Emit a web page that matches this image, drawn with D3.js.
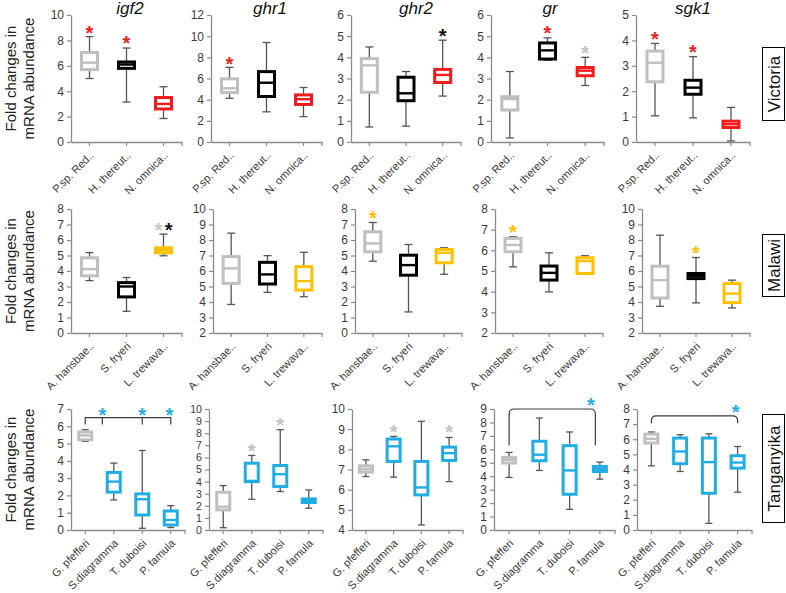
<!DOCTYPE html>
<html><head><meta charset="utf-8">
<script src="https://cdn.jsdelivr.net/npm/d3@7"></script>
<style>body{margin:0;background:#fff}svg{display:block;font-family:"Liberation Sans",Arial,sans-serif}</style>
</head><body><svg id="c" width="786" height="593"></svg>
<script>
// ---------- DATA ----------
const genes = ["igf2","ghr1","ghr2","gr","sgk1"];
const lakes = ["Victoria","Malawi","Tanganyika"];
const yTitleLines = ["Fold changes in","mRNA abundance"];

const victoriaSpecies = ["P.sp. Red..","H. thereut..","N. omnica.."];
const malawiSpecies = ["A. hansbae..","S. fryeri","L. trewava.."];
const tanganyikaSpecies = ["G. pfefferi","S.diagramma","T. duboisi","P. famula"];

const victoriaColors = ["grey","black","red"];
const malawiColors = ["grey","black","yellow"];
const tanganyikaColors = ["grey","cyan","cyan","cyan"];

const victoriaYMin = [0,0,0,0,0];
const victoriaYMax = [10,12,6,6,5];
const victoriaYStep = [2,2,1,1,1];
const malawiYMin = [0,2,0,2,2];
const malawiYMax = [8,10,8,8,10];
const malawiYStep = [1,1,1,1,1];
const tanganyikaYMin = [0,0,4,0,0];
const tanganyikaYMax = [7,10,10,9,8];
const tanganyikaYStep = [1,1,1,1,1];

// [whisker min, q1, median, q3, whisker max] per gene, per species
const victoriaBoxes = [
  [[5.0,5.7,6.25,7.05,8.3],[3.15,5.8,6.1,6.3,7.4],[1.85,2.6,3.0,3.5,4.35]],
  [[4.13,4.67,5.08,5.97,7.05],[2.85,4.3,5.6,6.65,9.4],[2.4,3.55,4.05,4.45,5.15]],
  [[0.71,2.35,3.62,3.94,4.49],[0.75,1.95,2.3,3.06,3.33],[2.17,2.81,3.17,3.43,4.81]],
  [[0.19,1.51,2.03,2.14,3.33],[3.86,3.92,4.33,4.68,4.92],[2.67,3.13,3.37,3.52,4.0]],
  [[1.03,2.37,3.12,3.58,3.88],[0.95,1.88,2.14,2.43,3.36],[0.04,0.57,0.7,0.82,1.36]]
];
const malawiBoxes = [
  [[3.38,3.69,4.12,4.85,5.19],[1.4,2.33,3.0,3.25,3.58],[4.98,5.17,5.34,5.5,6.38]],
  [[3.84,5.2,6.17,6.93,8.44],[4.62,5.16,5.78,6.56,6.99],[4.34,4.77,5.35,6.28,7.21]],
  [[4.63,5.24,5.78,6.53,7.13],[1.36,3.73,4.38,5.02,5.71],[3.79,4.53,5.17,5.39,5.5]],
  [[5.2,5.93,6.26,6.58,6.66],[3.99,4.56,4.91,5.24,5.88],[4.84,4.88,5.48,5.64,5.74]],
  [[3.72,4.26,5.41,6.31,8.31],[3.94,5.51,5.69,5.84,6.87],[3.62,3.96,4.54,5.19,5.41]]
];
const tanganyikaBoxes = [
  [[5.13,5.22,5.47,5.67,5.8],[1.74,2.19,2.8,3.33,3.87],[0.1,0.87,1.78,2.09,4.6],[0.14,0.29,0.58,1.1,1.41]],
  [[0.19,1.66,1.93,3.12,3.67],[2.54,4.0,4.06,5.52,6.16],[3.18,3.59,4.61,5.33,8.29],[1.8,2.27,2.4,2.57,3.31]],
  [[6.65,6.87,7.02,7.18,7.48],[6.62,7.4,8.15,8.51,8.64],[4.25,5.74,6.11,7.4,9.39],[6.4,7.45,7.81,8.11,8.59]],
  [[3.91,4.98,5.22,5.4,5.77],[4.43,5.15,5.6,6.6,8.33],[1.54,2.66,4.43,6.27,7.29],[3.78,4.35,4.53,4.73,5.05]],
  [[4.24,5.75,6.03,6.34,6.48],[3.87,4.38,5.19,6.08,6.3],[0.44,2.43,4.49,6.08,6.36],[2.5,4.09,4.46,4.91,5.52]]
];

// significance stars: [gene index, category position, value, colour]
const victoriaStars = [
  [0,0,8.95,"red"],[0,1,8.16,"red"],[1,0,7.84,"red"],[2,2,5.2,"black"],
  [3,1,5.35,"red"],[3,2,4.41,"grey"],[4,0,4.24,"red"],[4,1,3.72,"red"]
];
const malawiStars = [
  [0,1.86,6.96,"grey"],[0,2.14,6.96,"black"],[2,0,7.72,"yellow"],[3,0,7.1,"yellow"],[4,1,7.45,"yellow"]
];
const tanganyikaStars = [
  [0,0.6,6.94,"cyan"],[0,2.0,6.94,"cyan"],[0,2.95,6.94,"cyan"],
  [1,1,6.9,"grey"],[1,2,9.06,"grey"],[2,1,9.09,"grey"],[2,3,9.06,"grey"],
  [3,2.7,9.6,"cyan"],[4,2.93,8.07,"cyan"]
];
// brackets: gene index, from pos, to pos, top value, end value, tick positions, rounded
const tanganyikaBrackets = [
  [0,0,3,6.5,6.1,[0.6,2.0],false],
  [3,0,2.85,9.0,6.3,[],true],
  [4,0,3,7.55,7.05,[],true]
];

// ---------- STYLE / LAYOUT ----------
const palette = {grey:"#bfbfbf", black:"#000000", red:"#ee1c1c", yellow:"#ffc000", cyan:"#1fade4"};
const starPalette = {grey:"#c3c3c3", black:"#111111", red:"#ee1c1c", yellow:"#ffc000", cyan:"#1fade4"};
const rowLayout = [{top:15,bottom:142},{top:209,bottom:333},{top:409,bottom:530}];
const xRanges = [
  [[71,182],[211,322],[351,461],[491,604],[636,750]],
  [[71,182],[213,322],[355,462],[495,603],[642,750]],
  [[71,185],[209,323],[352,463],[494,615],[637,752]]
];
const titleX = [130,270,416,550,693];
const lakeBoxes = [{y0:47,y1:120},{y0:234,y1:296},{y0:414,y1:522}];

const rows = [
  {species:victoriaSpecies, colors:victoriaColors, mins:victoriaYMin, maxs:victoriaYMax, steps:victoriaYStep, boxes:victoriaBoxes, stars:victoriaStars, brackets:[]},
  {species:malawiSpecies, colors:malawiColors, mins:malawiYMin, maxs:malawiYMax, steps:malawiYStep, boxes:malawiBoxes, stars:malawiStars, brackets:[]},
  {species:tanganyikaSpecies, colors:tanganyikaColors, mins:tanganyikaYMin, maxs:tanganyikaYMax, steps:tanganyikaYStep, boxes:tanganyikaBoxes, stars:tanganyikaStars, brackets:tanganyikaBrackets}
];

const svg = d3.select("#c");
const axisColor = "#8a8a8a", textColor = "#3a3a3a", whiskerColor = "#555555";

rows.forEach((row, r) => {
  const L = rowLayout[r];
  const yc = (L.top + L.bottom) / 2;
  [16, 34].forEach((bx, k) => {
    svg.append("text").attr("transform", `translate(${bx},${yc}) rotate(-90)`)
      .attr("text-anchor","middle").attr("font-size",15).attr("fill","#222")
      .text(yTitleLines[k]);
  });
  const lb = lakeBoxes[r];
  svg.append("rect").attr("x",762.5).attr("y",lb.y0+0.5).attr("width",22).attr("height",lb.y1-lb.y0)
    .attr("fill","#fff").attr("stroke","#000").attr("stroke-width",1);
  svg.append("text").attr("transform",`translate(780,${(lb.y0+lb.y1)/2+0.5}) rotate(-90)`)
    .attr("text-anchor","middle").attr("font-size",17).attr("fill","#111").text(lakes[r]);

  genes.forEach((gene, g) => {
    const [x0, x1] = xRanges[r][g];
    const x = d3.scaleBand().domain(row.species).range([x0, x1]).padding(0);
    const y = d3.scaleLinear().domain([row.mins[g], row.maxs[g]]).range([L.bottom, L.top]);
    const pos = p => x(row.species[0]) + (p + 0.5) * x.step();
    const ticks = d3.range(row.mins[g], row.maxs[g] + row.steps[g] / 2, row.steps[g]);
    const tickGap = Math.abs(y(ticks[0]) - y(ticks[1]));
    const tickFont = tickGap < 13.5 ? Math.max(10.5, tickGap - 1.5) : 12;
    const bw = r === 2 ? 13 : 16;
    const capW = r === 2 ? 7 : 8;
    const pg = svg.append("g");

    if (r === 0) {
      pg.append("text").attr("x", titleX[g]).attr("y", 14).attr("text-anchor","middle")
        .attr("font-size",17).attr("font-style","italic").attr("fill","#111").text(gene);
    }

    const ya = pg.append("g").attr("transform",`translate(${x0},0)`)
      .call(d3.axisLeft(y).tickValues(ticks).tickSize(4).tickSizeOuter(0).tickPadding(3).tickFormat(d3.format("d")));
    ya.select(".domain").attr("stroke",axisColor).attr("stroke-width",1.3);
    ya.selectAll(".tick line").attr("stroke",axisColor).attr("stroke-width",1.2);
    ya.selectAll(".tick text").attr("font-size",tickFont).attr("fill",textColor).attr("font-family","Liberation Sans, Arial, sans-serif");

    const xa = pg.append("g").attr("transform",`translate(0,${L.bottom})`)
      .call(d3.axisBottom(x).tickSize(4).tickSizeOuter(0));
    xa.select(".domain").attr("stroke",axisColor).attr("stroke-width",1.3);
    xa.selectAll(".tick line").attr("stroke",axisColor).attr("stroke-width",1.2);
    xa.selectAll(".tick text").attr("font-size",11).attr("fill",textColor)
      .attr("font-family","Liberation Sans, Arial, sans-serif")
      .attr("text-anchor","end").attr("x",null).attr("y",null).attr("dy",null)
      .attr("transform","translate(5,14) rotate(-45)");
    xa.append("line").attr("x1",x1).attr("x2",x1).attr("y1",0).attr("y2",4)
      .attr("stroke",axisColor).attr("stroke-width",1.2);

    row.boxes[g].forEach((b, i) => {
      const cx = x(row.species[i]) + x.bandwidth() / 2;
      const col = palette[row.colors[i]];
      const [mn, q1, md, q3, mx] = b;
      const bg = pg.append("g");
      bg.append("line").attr("x1",cx).attr("x2",cx).attr("y1",y(mn)).attr("y2",y(q1)).attr("stroke",whiskerColor).attr("stroke-width",1.3);
      bg.append("line").attr("x1",cx).attr("x2",cx).attr("y1",y(q3)).attr("y2",y(mx)).attr("stroke",whiskerColor).attr("stroke-width",1.3);
      [mn, mx].forEach(v => bg.append("line").attr("x1",cx-capW/2).attr("x2",cx+capW/2).attr("y1",y(v)).attr("y2",y(v))
        .attr("stroke",whiskerColor).attr("stroke-width",1.3));
      bg.append("rect").attr("x",cx-bw/2).attr("y",y(q3)).attr("width",bw).attr("height",Math.max(0.5,y(q1)-y(q3)))
        .attr("fill","#fff").attr("stroke",col).attr("stroke-width",3);
      bg.append("line").attr("x1",cx-bw/2).attr("x2",cx+bw/2).attr("y1",y(md)).attr("y2",y(md))
        .attr("stroke",col).attr("stroke-width",2.4);
    });

    row.brackets.filter(k => k[0] === g).forEach(k => {
      const [, fp, tp, topV, endV, tks, rounded] = k;
      const xa0 = pos(fp), xa1 = pos(tp), yt = y(topV), ye = y(endV);
      const rr = rounded ? 5 : 0;
      const p = d3.path();
      p.moveTo(xa0, ye); p.lineTo(xa0, yt + rr);
      if (rr) p.quadraticCurveTo(xa0, yt, xa0 + rr, yt);
      p.lineTo(xa1 - rr, yt);
      if (rr) p.quadraticCurveTo(xa1, yt, xa1, yt + rr);
      p.lineTo(xa1, ye);
      pg.append("path").attr("d", p.toString()).attr("fill","none").attr("stroke","#3a3a3a").attr("stroke-width",1.2);
      tks.forEach(t => pg.append("line").attr("x1",pos(t)).attr("x2",pos(t)).attr("y1",yt).attr("y2",ye)
        .attr("stroke","#3a3a3a").attr("stroke-width",1.2));
    });

    row.stars.filter(s => s[0] === g).forEach(s => {
      pg.append("text").attr("x", pos(s[1])).attr("y", y(s[2]) + 11.5).attr("text-anchor","middle")
        .attr("font-size",20).attr("font-weight","bold").attr("fill",starPalette[s[3]]).text("*");
    });
  });
});
</script></body></html>
